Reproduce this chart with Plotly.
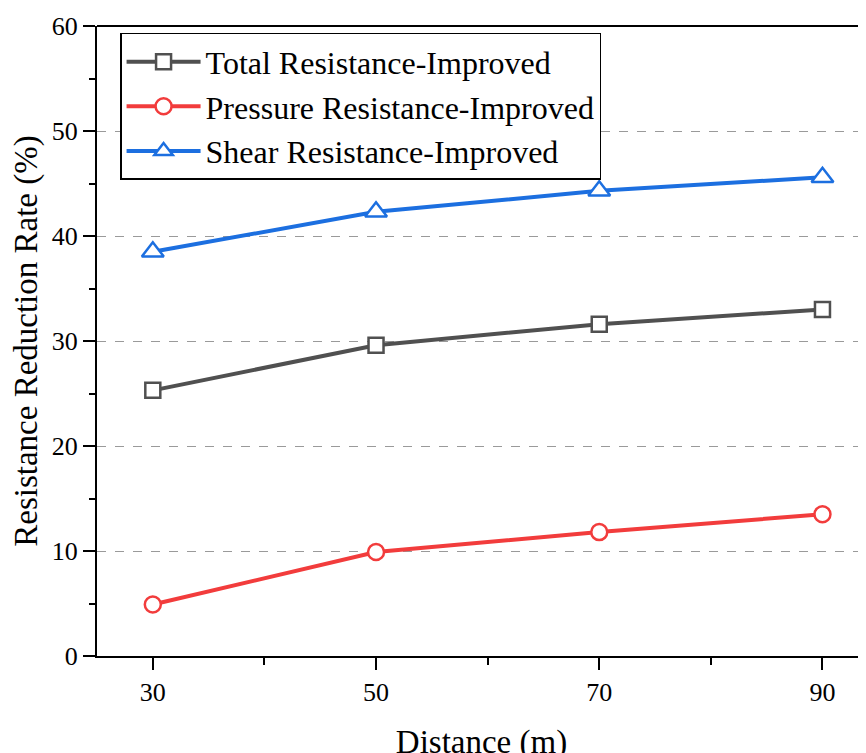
import plotly.graph_objects as go

distance = [30, 50, 70, 90]
total = [25.3, 29.6, 31.6, 33.0]
pressure = [4.9, 9.9, 11.8, 13.5]
shear = [38.5, 42.3, 44.3, 45.6]

names = ["Total Resistance-Improved", "Pressure Resistance-Improved", "Shear Resistance-Improved"]
colors = ["#505050", "#F23C3C", "#1C6FE0"]
symbols = ["square", "circle", "triangle-up"]
sizes = [15, 16, 19]

FONT = "Liberation Serif"

fig = go.Figure()
for name, ys, c, s, sz in zip(names, [total, pressure, shear], colors, symbols, sizes):
    fig.add_trace(go.Scatter(
        x=distance, y=ys, name=name, mode="lines+markers",
        line=dict(color=c, width=4),
        marker=dict(symbol=s, size=sz, color="white",
                    line=dict(color=c, width=2.5)),
    ))

# the page body has an 8px margin, so margins compensate for that offset
fig.update_layout(
    width=866, height=753,
    margin=dict(l=89, r=8, t=18, b=105),
    paper_bgcolor="white", plot_bgcolor="white",
    font=dict(family=FONT, color="black", size=26),
    showlegend=True,
    legend=dict(
        x=0.03, y=0.989, xanchor="left", yanchor="top",
        bgcolor="white", bordercolor="black", borderwidth=1.5,
        font=dict(family=FONT, size=32, color="black"),
        tracegroupgap=0, itemwidth=74,
    ),
    xaxis=dict(
        range=[25, 93.9], tickvals=distance, ticktext=[str(d) for d in distance],
        showgrid=False, zeroline=False, automargin=False,
        showline=True, linecolor="black", linewidth=2, mirror=False,
        ticks="outside", ticklen=12, tickwidth=2, tickcolor="black",
        minor=dict(tickvals=[40, 60, 80], ticks="outside", ticklen=7, tickwidth=2, tickcolor="black"),
        tickfont=dict(family=FONT, size=26), ticklabelstandoff=0,
        title=dict(text="Distance (m)", font=dict(family=FONT, size=33), standoff=24),
    ),
    yaxis=dict(
        range=[0, 60], tickvals=[0, 10, 20, 30, 40, 50, 60],
        showgrid=True, gridcolor="#9a9a9a", griddash="dash", gridwidth=1,
        zeroline=False, automargin=False,
        showline=True, linecolor="black", linewidth=2,
        ticks="outside", ticklen=12, tickwidth=2, tickcolor="black",
        minor=dict(tickvals=[5, 15, 25, 35, 45, 55], ticks="outside", ticklen=6, tickwidth=2,
                   tickcolor="black", showgrid=False),
        tickfont=dict(family=FONT, size=26),
        title=dict(text="Resistance Reduction Rate (%)", font=dict(family=FONT, size=33), standoff=8),
    ),
)

# top border line of the frame
fig.add_shape(type="line", xref="paper", yref="paper", x0=0, x1=1, y0=1, y1=1,
              line=dict(color="black", width=2))

fig.write_html("out.html")
